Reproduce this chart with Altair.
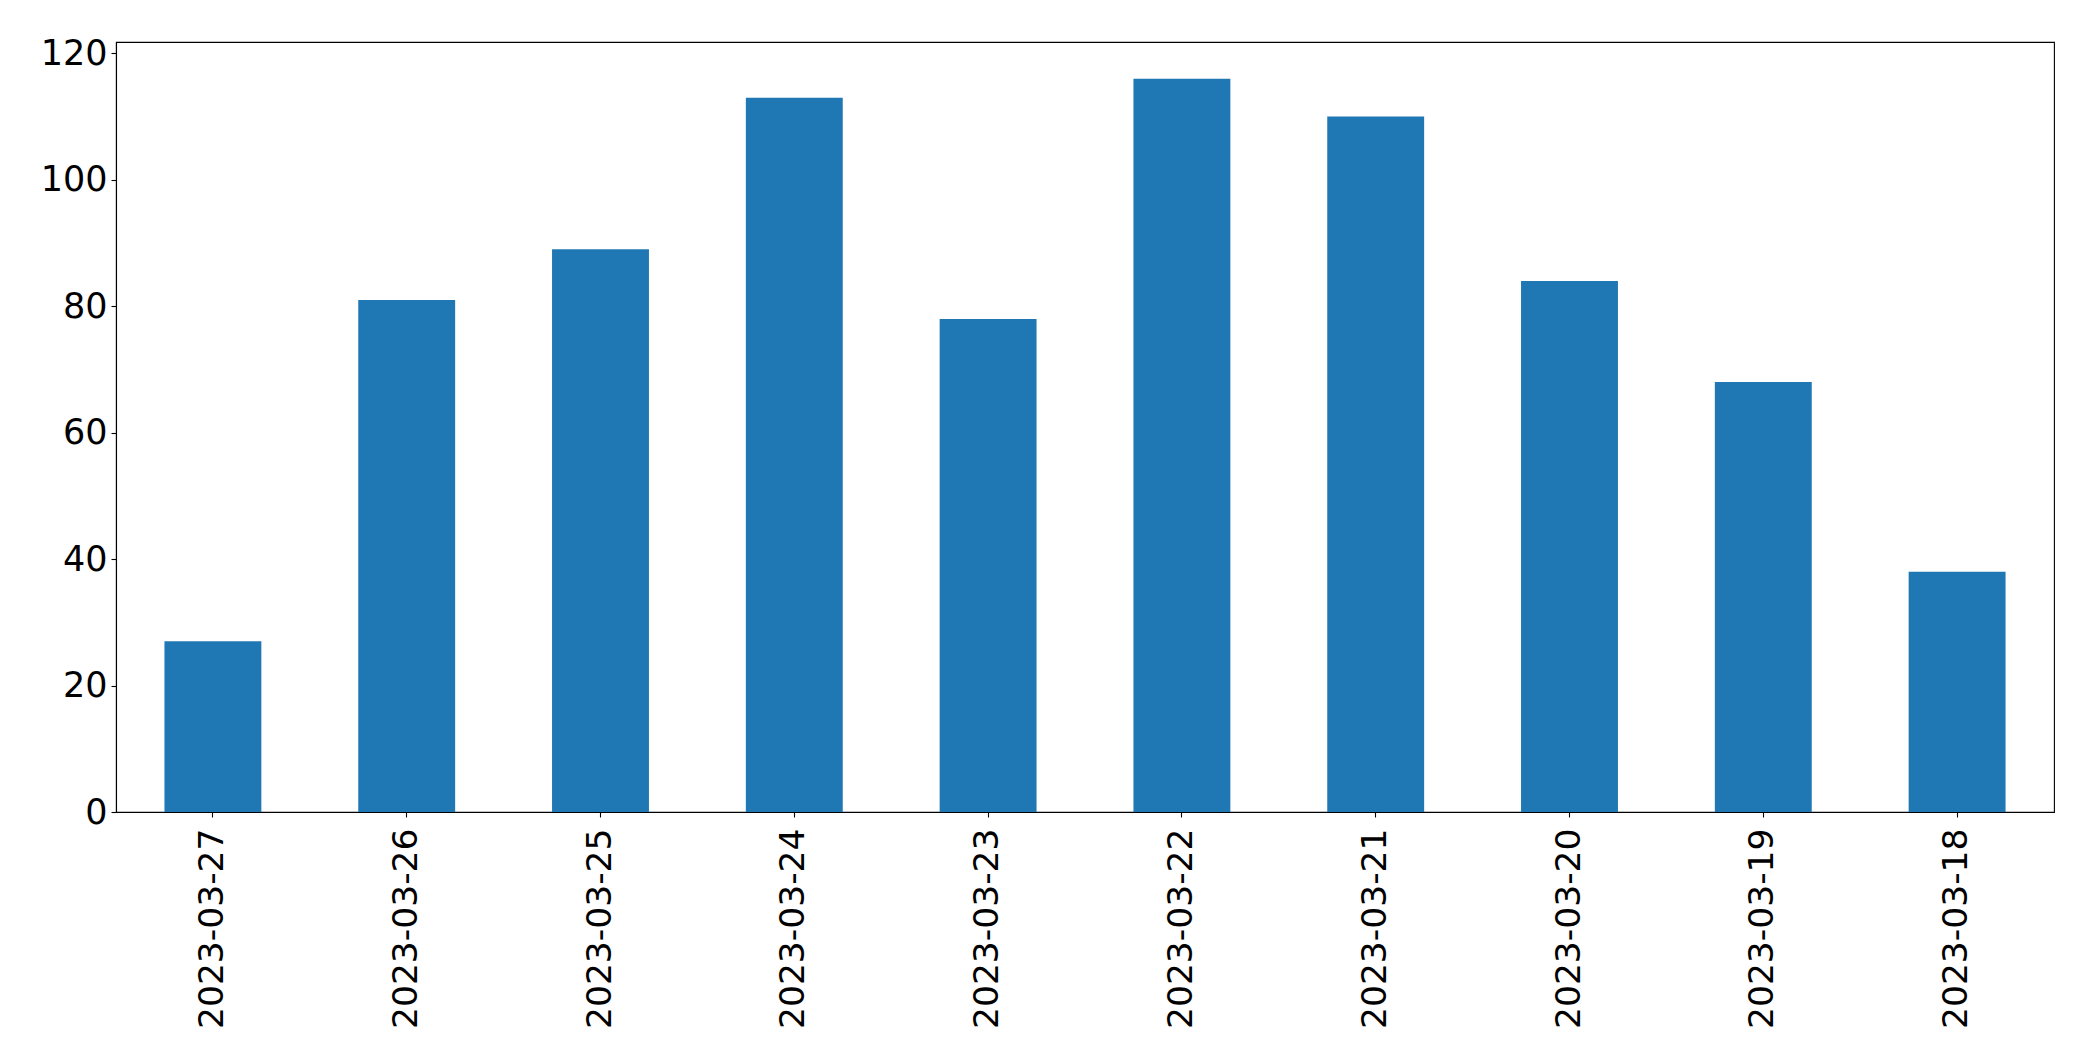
import altair as alt
import pandas as pd

dates = ["2023-03-27", "2023-03-26", "2023-03-25", "2023-03-24", "2023-03-23",
         "2023-03-22", "2023-03-21", "2023-03-20", "2023-03-19", "2023-03-18"]
counts = [27, 81, 89, 113, 78, 116, 110, 84, 68, 38]
y_ticks = [0, 20, 40, 60, 80, 100, 120]

df = pd.DataFrame({"date": dates, "count": counts})

chart = alt.Chart(df).mark_bar(color="#1f77b4").encode(
    x=alt.X("date:N", sort=dates,
            scale=alt.Scale(paddingInner=0.5, paddingOuter=0.25),
            axis=alt.Axis(title=None, labelAngle=-90, labelAlign="right", labelBaseline="middle",
                          labelFontSize=34.5, labelFont="DejaVu Sans", labelColor="black",
                          labelLimit=0, labelOverlap=False,
                          tickSize=5, tickColor="black", tickWidth=1.1,
                          domainColor="black", domainWidth=1.1, labelPadding=11)),
    y=alt.Y("count:Q", scale=alt.Scale(domain=[0, 121.8], nice=False, zero=True),
            axis=alt.Axis(title=None, values=y_ticks, grid=False,
                          labelFontSize=35, labelFont="DejaVu Sans", labelColor="black",
                          tickSize=5, tickColor="black", tickWidth=1.1,
                          domainColor="black", domainWidth=1.1, labelPadding=4)),
).properties(
    width=1938, height=770,
    autosize=alt.AutoSizeParams(type="none"),
    padding={"left": 108, "top": 34, "right": 20, "bottom": 235},
).configure_view(stroke="black", strokeWidth=1.1)

chart.save("out.html", embed_options={"renderer": "svg", "actions": False})
